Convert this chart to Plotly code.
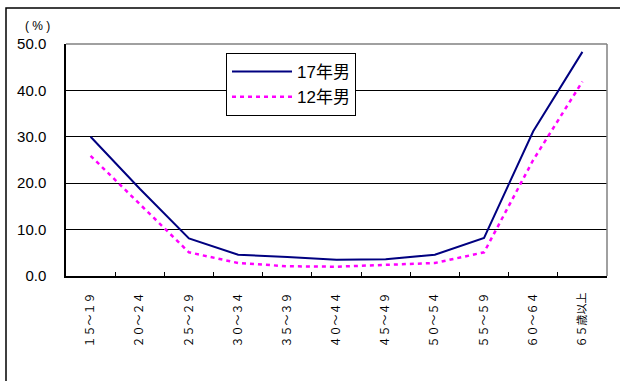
import plotly.graph_objects as go

categories = ["１５～１９", "２０～２４", "２５～２９", "３０～３４", "３５～３９", "４０～４４",
              "４５～４９", "５０～５４", "５５～５９", "６０～６４", "６５歳以上"]
series_17 = [30.0, 18.8, 8.1, 4.6, 4.1, 3.5, 3.6, 4.6, 8.2, 31.2, 48.3]
series_12 = [25.9, 15.4, 5.1, 2.8, 2.1, 2.0, 2.4, 2.8, 5.1, 25.0, 41.9]
name_17 = "17年男"
name_12 = "12年男"
y_ticks = [0, 10, 20, 30, 40, 50]

L, R, T, B = 66, 13, 44, 105
W, H = 620, 381
pw, ph = W - L - R, H - T - B

fig = go.Figure()
fig.add_trace(go.Scatter(x=categories, y=series_17, name=name_17, mode="lines",
                         line=dict(color="#000080", width=2)))
fig.add_trace(go.Scatter(x=categories, y=series_12, name=name_12, mode="lines",
                         line=dict(color="#FF00FF", width=2.5, dash="4px,4px")))

fig.update_layout(
    width=W, height=H,
    margin=dict(l=L, r=R, t=T, b=B, pad=0, autoexpand=False),
    paper_bgcolor="white", plot_bgcolor="white",
    font=dict(family="Liberation Sans, Noto Sans CJK JP", color="black"),
    showlegend=True,
    legend=dict(x=(226 - L) / pw, y=(H - B - 53) / ph, xanchor="left", yanchor="top",
                bordercolor="black", borderwidth=1, bgcolor="white",
                font=dict(size=17, family="Liberation Sans, Noto Sans CJK JP"),
                itemwidth=60, tracegroupgap=0),
    xaxis=dict(type="category", showline=True, linecolor="black", linewidth=2,
               ticks="inside", ticklen=4, tickcolor="black", tickson="boundaries",
               tickangle=-90, showgrid=False, range=[-0.5, 10.5],
               tickfont=dict(family="Noto Sans CJK JP", size=11, color="black"),
               ticklabelstandoff=10),
    yaxis=dict(range=[0, 50], tickvals=y_ticks, tickformat=".1f",
               showline=True, linecolor="black", linewidth=1.5,
               showgrid=True, gridcolor="black", gridwidth=1, zeroline=False,
               ticks="", tickfont=dict(family="Liberation Sans", size=15, color="black"),
               ticklabelstandoff=15),
)

# plot area right/top border (gray)
fig.add_shape(type="line", xref="paper", yref="paper", x0=0, x1=1, y0=1, y1=1,
              line=dict(color="#808080", width=1.5), layer="above")
fig.add_shape(type="line", xref="paper", yref="paper", x0=1, x1=1, y0=0, y1=1,
              line=dict(color="#808080", width=1.5), layer="above")
# outer chart frame (top and left visible)
fig.add_shape(type="rect", xref="paper", yref="paper",
              x0=(6 - L) / pw, x1=1.3, y0=-0.6, y1=(H - B - 8) / ph,
              line=dict(color="black", width=1.5), layer="below")

fig.add_annotation(text="( % )", xref="paper", yref="paper",
                   x=(37 - L) / pw, y=(H - B - 26) / ph, showarrow=False,
                   font=dict(family="Liberation Sans", size=12, color="black"),
                   xanchor="center", yanchor="middle")

fig.write_html("out.html", config={"displayModeBar": False},
               post_script="document.body.style.margin='0';document.body.style.overflow='hidden';")
